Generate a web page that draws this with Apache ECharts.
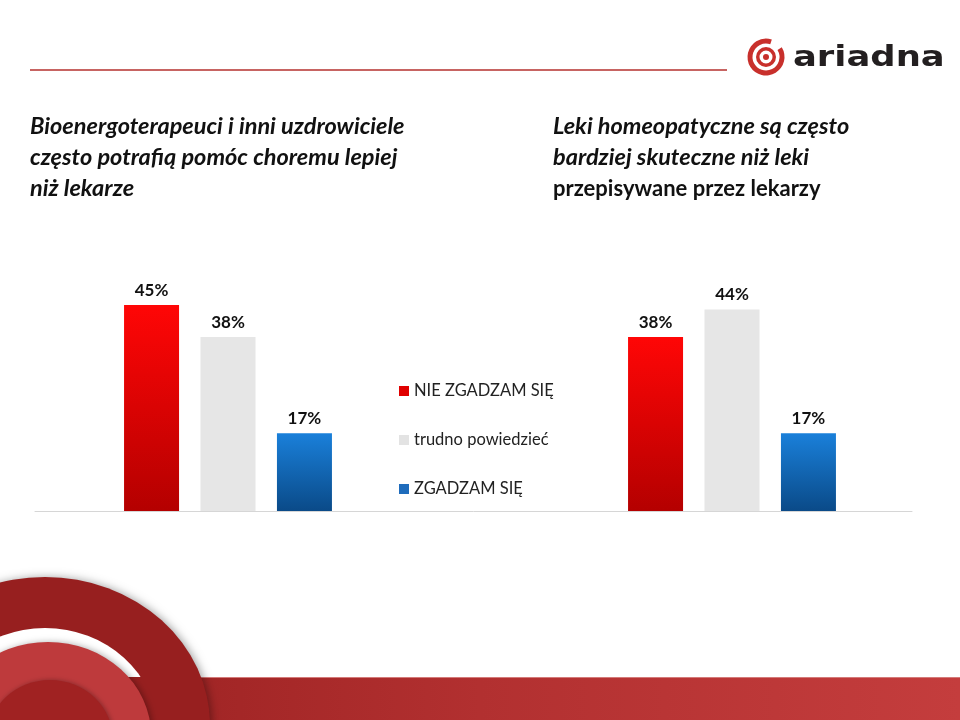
<!DOCTYPE html>
<html>
<head>
<meta charset="utf-8">
<script src="https://cdn.jsdelivr.net/npm/echarts@6/dist/echarts.min.js"></script>
<style>
html,body{margin:0;padding:0;background:#fff;}
#main{width:960px;height:720px;}
</style>
</head>
<body>
<div id="main"></div>
<script>
// ---- data ----
const categories = ['Bioenergoterapeuci', '', 'Leki homeopatyczne'];
const seriesNames = ['NIE ZGADZAM SIĘ', 'trudno powiedzieć', 'ZGADZAM SIĘ'];
const nieZgadzam = [45, '-', 38];
const trudno = [38, '-', 44];
const zgadzam = [17, '-', 17];
const titleLeft = ['Bioenergoterapeuci i inni uzdrowiciele', 'często potrafią pomóc choremu lepiej', 'niż lekarze'];
const titleRight = ['Leki homeopatyczne są często', 'bardziej skuteczne niż leki', 'przepisywane przez lekarzy'];
const logoText = 'ariadna';

const chart = echarts.init(document.getElementById('main'), null, {renderer: 'canvas'});

const FONT = 'Lato, "Open Sans", sans-serif';

function grad(top, bottom) {
  return new echarts.graphic.LinearGradient(0, 0, 0, 1, [
    {offset: 0, color: top}, {offset: 1, color: bottom}
  ]);
}

const labelStyle = {
  show: true, position: 'top', distance: 6,
  formatter: '{c}%', color: '#111', fontFamily: FONT, fontWeight: 'bold', fontSize: 17
};

function ell(cx, cy, rx, ry, style) {
  return {
    type: 'circle', x: cx, y: cy, scaleX: rx / ry, scaleY: 1,
    shape: {cx: 0, cy: 0, r: ry}, style: style, silent: true
  };
}

const DARK = '#971f1f';
const option = {
  backgroundColor: '#ffffff',
  animation: false,
  title: [
    {
      text: titleLeft.join('\n'), left: 30, top: 111, padding: 0,
      textStyle: {fontFamily: FONT, fontStyle: 'italic', fontWeight: 'bold', fontSize: 23.5, lineHeight: 31, color: '#111'}
    },
    {
      text: titleRight[0] + '\n' + titleRight[1] + '\n{n|' + titleRight[2] + '}', left: 553, top: 111, padding: 0,
      textStyle: {
        fontFamily: FONT, fontStyle: 'italic', fontWeight: 'bold', fontSize: 23.5, lineHeight: 31, color: '#111',
        rich: {n: {fontFamily: FONT, fontStyle: 'normal', fontWeight: 'bold', fontSize: 22, lineHeight: 31, color: '#111'}}
      }
    }
  ],
  legend: {
    orient: 'vertical', left: 399, top: 381, padding: 0,
    itemWidth: 10, itemHeight: 10, itemGap: 29, icon: 'rect',
    textStyle: {fontFamily: FONT, fontSize: 16.5, color: '#222', lineHeight: 20},
    data: [
      {name: seriesNames[0], itemStyle: {color: '#e00000'}},
      {name: seriesNames[1], itemStyle: {color: '#e3e3e3'}},
      {name: seriesNames[2], itemStyle: {color: '#1f6cbc'}}
    ]
  },
  grid: [
    {left: 102, right: 102, top: 282, bottom: 209},
    {left: 35, right: 48, top: 282, bottom: 209}
  ],
  xAxis: [
    {type: 'category', gridIndex: 0, data: categories,
     axisLine: {show: false}, axisTick: {show: false}, axisLabel: {show: false}},
    {type: 'category', gridIndex: 1, data: [''],
     axisLine: {show: true, lineStyle: {color: '#d6d6d6', width: 1}}, axisTick: {show: false}, axisLabel: {show: false}}
  ],
  yAxis: [
    {type: 'value', gridIndex: 0, min: 0, max: 50, show: false, splitLine: {show: false}},
    {type: 'value', gridIndex: 1, min: 0, max: 50, show: false, splitLine: {show: false}}
  ],
  series: [
    {name: seriesNames[0], type: 'bar', xAxisIndex: 0, yAxisIndex: 0, data: nieZgadzam,
     barWidth: 55, barGap: '39%', itemStyle: {color: grad('#ff0606', '#b40000')}, label: labelStyle},
    {name: seriesNames[1], type: 'bar', xAxisIndex: 0, yAxisIndex: 0, data: trudno,
     barWidth: 55, barGap: '39%', itemStyle: {color: '#e6e6e6'}, label: labelStyle},
    {name: seriesNames[2], type: 'bar', xAxisIndex: 0, yAxisIndex: 0, data: zgadzam,
     barWidth: 55, barGap: '39%', itemStyle: {color: grad('#1a80da', '#0a4a88')}, label: labelStyle}
  ],
  graphic: [
    // header rule
    {type: 'line', shape: {x1: 30, y1: 70, x2: 727, y2: 70}, style: {stroke: '#b5302e', lineWidth: 1.5}, silent: true},
    // logo icon
    {type: 'sector', shape: {cx: 766, cy: 57, r: 18.5, r0: 13.5, startAngle: -0.55, endAngle: 2 * Math.PI - 1.25, clockwise: true},
     style: {fill: '#c8302c'}, silent: true},
    {type: 'ring', shape: {cx: 766, cy: 57, r: 10, r0: 6.5}, style: {fill: '#c8302c'}, silent: true},
    {type: 'circle', shape: {cx: 766, cy: 57, r: 3}, style: {fill: '#c8302c'}, silent: true},
    {type: 'text', x: 793, y: 58, scaleX: 1.22, scaleY: 1,
     style: {text: logoText, fontFamily: '"DejaVu Sans", sans-serif', fontWeight: 'bold', fontSize: 29, fill: '#231f20', verticalAlign: 'middle'}, silent: true},
    // bottom band
    {type: 'rect', shape: {x: 0, y: 677, width: 960, height: 43},
     style: {fill: new echarts.graphic.LinearGradient(0, 0, 1, 0, [
       {offset: 0, color: '#961e1e'}, {offset: 0.5, color: '#b23030'}, {offset: 1, color: '#c43d3d'}])}, silent: true},
    {type: 'line', shape: {x1: 0, y1: 677.5, x2: 960, y2: 677.5}, style: {stroke: '#d47a79', lineWidth: 1}, silent: true},
    // bottom-left arcs
    ell(45, 725, 165, 148, {fill: DARK, shadowBlur: 8, shadowColor: 'rgba(0,0,0,0.35)', shadowOffsetX: 2}),
    ell(45, 730, 112, 102, {fill: '#ffffff'}),
    {type: 'rect', shape: {x: 0, y: 677, width: 172, height: 43}, style: {fill: DARK}, silent: true},
    ell(48, 735, 103, 93, {fill: '#be3a3c', shadowBlur: 6, shadowColor: 'rgba(0,0,0,0.3)', shadowOffsetX: 2}),
    ell(50, 740, 63, 60, {fill: '#a02222', shadowBlur: 5, shadowColor: 'rgba(0,0,0,0.3)', shadowOffsetX: 1})
  ]
};

chart.setOption(option);
</script>
</body>
</html>
